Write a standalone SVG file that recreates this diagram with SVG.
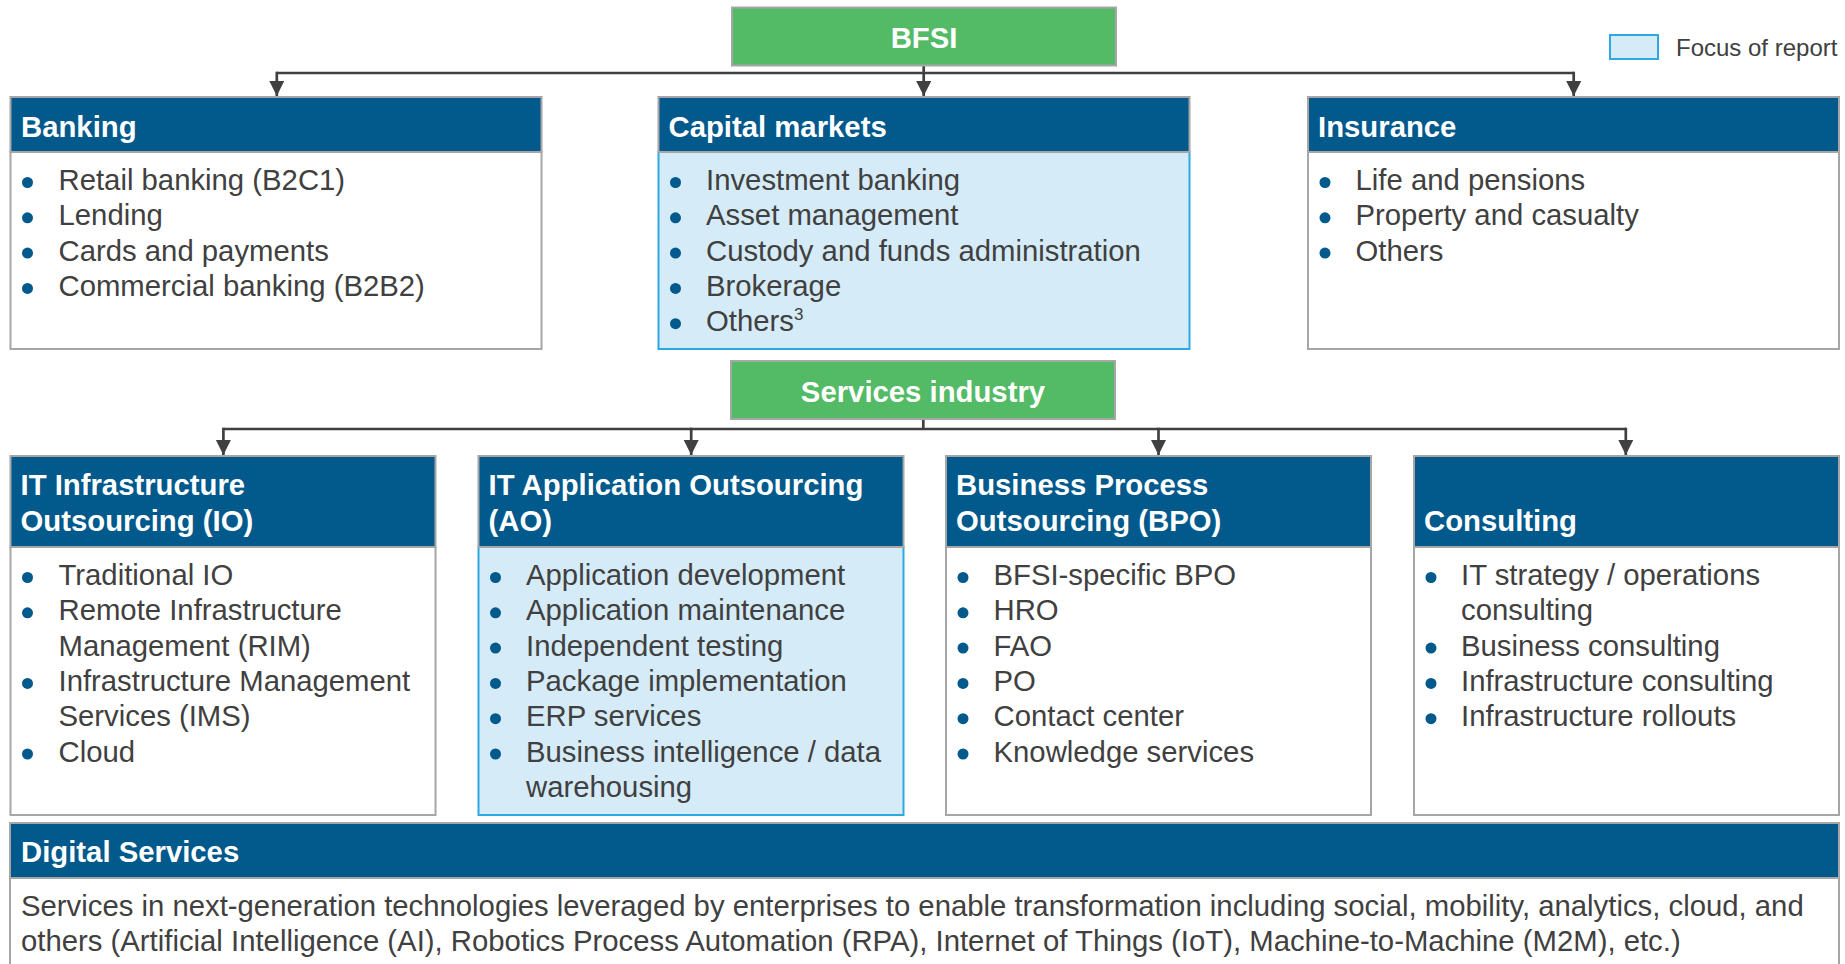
<svg xmlns="http://www.w3.org/2000/svg" width="1845" height="964" viewBox="0 0 1845 964">
<defs>
<style>
.hdr{fill:#02598B;stroke:#A6A6A6;stroke-width:2}
.body{fill:#FFFFFF;stroke:#A6A6A6;stroke-width:2}
.focus{fill:#D5EBF7;stroke:#2EA8E0;stroke-width:2}
.green{fill:#53BA66;stroke:#A6A6A6;stroke-width:2}
.ht{font-family:"Liberation Sans",Arial,sans-serif;font-size:29.3px;font-weight:bold;fill:#FFFFFF}
.bt{font-family:"Liberation Sans",Arial,sans-serif;font-size:29.3px;fill:#404040}
.lg{font-family:"Liberation Sans",Arial,sans-serif;font-size:24px;fill:#404040}
.dot{fill:#02598B}
.conn{fill:none;stroke:#404040;stroke-width:2.7}
</style>
<marker id="arr" markerUnits="userSpaceOnUse" markerWidth="16" markerHeight="16" refX="15" refY="7.5" orient="auto">
<path d="M0,0 L15,7.5 L0,15 z" fill="#404040"/>
</marker>
</defs>
<rect width="1845" height="964" fill="#FFFFFF"/>

<g id="legend">
<rect x="1610" y="35" width="48" height="24" class="focus"/>
<text x="1676" y="56" class="lg">Focus of report</text>
</g>

<g id="connectors">
<path class="conn" d="M923.7,66 V96" marker-end="url(#arr)"/>
<path class="conn" d="M276.8,73 H1573.7"/>
<path class="conn" d="M276.8,71.7 V96" marker-end="url(#arr)"/>
<path class="conn" d="M1573.7,71.7 V96" marker-end="url(#arr)"/>
<path class="conn" d="M923.3,419 V429"/>
<path class="conn" d="M223.4,429 H1625.8"/>
<path class="conn" d="M223.4,427.7 V455" marker-end="url(#arr)"/>
<path class="conn" d="M691.2,427.7 V455" marker-end="url(#arr)"/>
<path class="conn" d="M1158.5,427.7 V455" marker-end="url(#arr)"/>
<path class="conn" d="M1625.8,427.7 V455" marker-end="url(#arr)"/>
</g>

<g id="bfsi">
<rect x="732" y="7.5" width="384" height="58" class="green"/>
<text x="924" y="47.7" class="ht" text-anchor="middle">BFSI</text>
</g>

<g id="banking">
<rect x="10.5" y="152" width="531" height="197" class="body"/>
<rect x="10.5" y="97" width="531" height="55" class="hdr"/>
<text x="21" y="137" class="ht">Banking</text>
<circle cx="27.5" cy="182.5" r="5.5" class="dot"/><text x="58.5" y="190" class="bt">Retail banking (B2C1)</text>
<circle cx="27.5" cy="217.8" r="5.5" class="dot"/><text x="58.5" y="225.3" class="bt">Lending</text>
<circle cx="27.5" cy="253.1" r="5.5" class="dot"/><text x="58.5" y="260.6" class="bt">Cards and payments</text>
<circle cx="27.5" cy="288.4" r="5.5" class="dot"/><text x="58.5" y="295.9" class="bt">Commercial banking (B2B2)</text>
</g>

<g id="capital-markets">
<rect x="658.5" y="152" width="531" height="197" class="focus"/>
<rect x="658.5" y="97" width="531" height="55" class="hdr"/>
<text x="668.5" y="137" class="ht">Capital markets</text>
<circle cx="675.5" cy="182.5" r="5.5" class="dot"/><text x="706" y="190" class="bt">Investment banking</text>
<circle cx="675.5" cy="217.8" r="5.5" class="dot"/><text x="706" y="225.3" class="bt">Asset management</text>
<circle cx="675.5" cy="253.1" r="5.5" class="dot"/><text x="706" y="260.6" class="bt">Custody and funds administration</text>
<circle cx="675.5" cy="288.4" r="5.5" class="dot"/><text x="706" y="295.9" class="bt">Brokerage</text>
<circle cx="675.5" cy="323.7" r="5.5" class="dot"/><text x="706" y="331.2" class="bt">Others<tspan font-size="17" dy="-11">3</tspan></text>
</g>

<g id="insurance">
<rect x="1308" y="152" width="531" height="197" class="body"/>
<rect x="1308" y="97" width="531" height="55" class="hdr"/>
<text x="1318" y="137" class="ht">Insurance</text>
<circle cx="1325" cy="182.5" r="5.5" class="dot"/><text x="1355.5" y="190" class="bt">Life and pensions</text>
<circle cx="1325" cy="217.8" r="5.5" class="dot"/><text x="1355.5" y="225.3" class="bt">Property and casualty</text>
<circle cx="1325" cy="253.1" r="5.5" class="dot"/><text x="1355.5" y="260.6" class="bt">Others</text>
</g>

<g id="services-industry">
<rect x="731" y="361" width="384" height="58" class="green"/>
<text x="923" y="401.5" class="ht" text-anchor="middle">Services industry</text>
</g>

<g id="it-io">
<rect x="10.5" y="547" width="425" height="268" class="body"/>
<rect x="10.5" y="456" width="425" height="91" class="hdr"/>
<text x="20.5" y="495" class="ht">IT Infrastructure</text>
<text x="20.5" y="531" class="ht">Outsourcing (IO)</text>
<circle cx="27.5" cy="577.5" r="5.5" class="dot"/><text x="58.5" y="585" class="bt">Traditional IO</text>
<circle cx="27.5" cy="612.8" r="5.5" class="dot"/><text x="58.5" y="620.3" class="bt">Remote Infrastructure</text>
<text x="58.5" y="655.6" class="bt">Management (RIM)</text>
<circle cx="27.5" cy="683.4" r="5.5" class="dot"/><text x="58.5" y="690.9" class="bt">Infrastructure Management</text>
<text x="58.5" y="726.2" class="bt">Services (IMS)</text>
<circle cx="27.5" cy="754" r="5.5" class="dot"/><text x="58.5" y="761.5" class="bt">Cloud</text>
</g>

<g id="it-ao">
<rect x="478.5" y="547" width="425" height="268" class="focus"/>
<rect x="478.5" y="456" width="425" height="91" class="hdr"/>
<text x="488.5" y="495" class="ht">IT Application Outsourcing</text>
<text x="488.5" y="531" class="ht">(AO)</text>
<circle cx="495.5" cy="577.5" r="5.5" class="dot"/><text x="526" y="585" class="bt">Application development</text>
<circle cx="495.5" cy="612.8" r="5.5" class="dot"/><text x="526" y="620.3" class="bt">Application maintenance</text>
<circle cx="495.5" cy="648.1" r="5.5" class="dot"/><text x="526" y="655.6" class="bt">Independent testing</text>
<circle cx="495.5" cy="683.4" r="5.5" class="dot"/><text x="526" y="690.9" class="bt">Package implementation</text>
<circle cx="495.5" cy="718.7" r="5.5" class="dot"/><text x="526" y="726.2" class="bt">ERP services</text>
<circle cx="495.5" cy="754" r="5.5" class="dot"/><text x="526" y="761.5" class="bt">Business intelligence / data</text>
<text x="526" y="796.8" class="bt">warehousing</text>
</g>

<g id="bpo">
<rect x="946" y="547" width="425" height="268" class="body"/>
<rect x="946" y="456" width="425" height="91" class="hdr"/>
<text x="956" y="495" class="ht">Business Process</text>
<text x="956" y="531" class="ht">Outsourcing (BPO)</text>
<circle cx="963" cy="577.5" r="5.5" class="dot"/><text x="993.5" y="585" class="bt">BFSI-specific BPO</text>
<circle cx="963" cy="612.8" r="5.5" class="dot"/><text x="993.5" y="620.3" class="bt">HRO</text>
<circle cx="963" cy="648.1" r="5.5" class="dot"/><text x="993.5" y="655.6" class="bt">FAO</text>
<circle cx="963" cy="683.4" r="5.5" class="dot"/><text x="993.5" y="690.9" class="bt">PO</text>
<circle cx="963" cy="718.7" r="5.5" class="dot"/><text x="993.5" y="726.2" class="bt">Contact center</text>
<circle cx="963" cy="754" r="5.5" class="dot"/><text x="993.5" y="761.5" class="bt">Knowledge services</text>
</g>

<g id="consulting">
<rect x="1414" y="547" width="425" height="268" class="body"/>
<rect x="1414" y="456" width="425" height="91" class="hdr"/>
<text x="1424" y="531" class="ht">Consulting</text>
<circle cx="1431" cy="577.5" r="5.5" class="dot"/><text x="1461" y="585" class="bt">IT strategy / operations</text>
<text x="1461" y="620.3" class="bt">consulting</text>
<circle cx="1431" cy="648.1" r="5.5" class="dot"/><text x="1461" y="655.6" class="bt">Business consulting</text>
<circle cx="1431" cy="683.4" r="5.5" class="dot"/><text x="1461" y="690.9" class="bt">Infrastructure consulting</text>
<circle cx="1431" cy="718.7" r="5.5" class="dot"/><text x="1461" y="726.2" class="bt">Infrastructure rollouts</text>
</g>

<g id="digital-services">
<rect x="10" y="878" width="1829" height="100" class="body"/>
<rect x="10" y="823" width="1829" height="55" class="hdr"/>
<text x="21" y="862" class="ht">Digital Services</text>
<text x="21" y="916" class="bt">Services in next-generation technologies leveraged by enterprises to enable transformation including social, mobility, analytics, cloud, and</text>
<text x="21" y="951" class="bt">others (Artificial Intelligence (AI), Robotics Process Automation (RPA), Internet of Things (IoT), Machine-to-Machine (M2M), etc.)</text>
</g>
</svg>
